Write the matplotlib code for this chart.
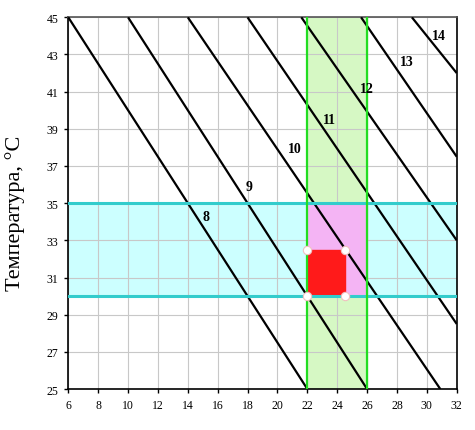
import matplotlib
matplotlib.use("Agg")
from matplotlib import pyplot as plt
from matplotlib.patches import Rectangle

# iso-lines: start on the top edge (T = 45), end on bottom or right edge
line_labels = ["8", "9", "10", "11", "12", "13", "14"]
line_start_x = [6, 10, 14, 18, 21.6, 25.6, 29.0]
line_start_y = [45, 45, 45, 45, 45, 45, 45]
line_end_x = [22, 26, 30.9, 32, 32, 32, 32]
line_end_y = [25, 25, 25, 28.5, 33.0, 37.5, 42.0]
label_x = [15.25, 18.13, 21.14, 23.5, 26.0, 28.65, 30.8]
label_y = [34.3, 35.9, 37.96, 39.48, 41.17, 42.6, 44.0]

# bands and optimal zone
temp_band = [30, 35]
x_band = [22, 26]
zone_x = [22, 24.5]
zone_t = [30, 32.5]

x_ticks = list(range(6, 33, 2))
y_ticks = list(range(25, 46, 2))

plt.rcParams["font.family"] = ["Liberation Serif", "DejaVu Serif"]

fig = plt.figure(figsize=(4.75, 4.31), dpi=100)
ax = fig.add_axes([0.1438, 0.0951, 0.8177, 0.8624])
ax.set_xlim(6, 32)
ax.set_ylim(25, 45)

# shaded bands
ax.axhspan(temp_band[0], temp_band[1], color="#ccffff", zorder=0)
ax.axvspan(x_band[0], x_band[1], color="#d6f8c4", zorder=0.5)
ax.add_patch(Rectangle((x_band[0], temp_band[0]), x_band[1] - x_band[0],
                       temp_band[1] - temp_band[0], color="#f4b4f4", zorder=0.6))
ax.add_patch(Rectangle((zone_x[0], zone_t[0]), zone_x[1] - zone_x[0],
                       zone_t[1] - zone_t[0], color="#ff1a1a", zorder=0.7))

ax.set_xticks(x_ticks)
ax.set_yticks(y_ticks)
ax.grid(True, color="#c8c8c8", lw=0.8, zorder=0.8)
ax.set_axisbelow(True)

for i in range(len(line_labels)):
    ax.plot([line_start_x[i], line_end_x[i]], [line_start_y[i], line_end_y[i]],
            color="black", lw=1.6, zorder=3, solid_capstyle="butt")
    ax.text(label_x[i], label_y[i], line_labels[i], ha="center", va="center",
            fontsize=10, fontweight="bold", zorder=5)

for t in temp_band:
    ax.axhline(t, color="#33cccc", lw=2.2, zorder=4)
for xv in x_band:
    ax.axvline(xv, color="#22dd22", lw=1.6, zorder=4)

# corner markers of the optimal zone
cx = [zone_x[0], zone_x[1], zone_x[0], zone_x[1]]
cy = [zone_t[1], zone_t[1], zone_t[0], zone_t[0]]
ax.plot(cx, cy, "o", ms=6, mfc="white", mec="#f0c0c0", mew=0.8, ls="none", zorder=6)

ax.tick_params(direction="out", length=3, width=1, labelsize=8.5, pad=4)
for s in ["left", "bottom", "right"]:
    ax.spines[s].set_color("black")
    ax.spines[s].set_linewidth(1.2)
ax.spines["top"].set_color("#555555")
ax.spines["top"].set_linewidth(1.2)

ax.set_ylabel("Температура, °С", fontsize=16)
ax.yaxis.set_label_coords(-0.112, 0.475)

fig.savefig("out.png", dpi=100)
